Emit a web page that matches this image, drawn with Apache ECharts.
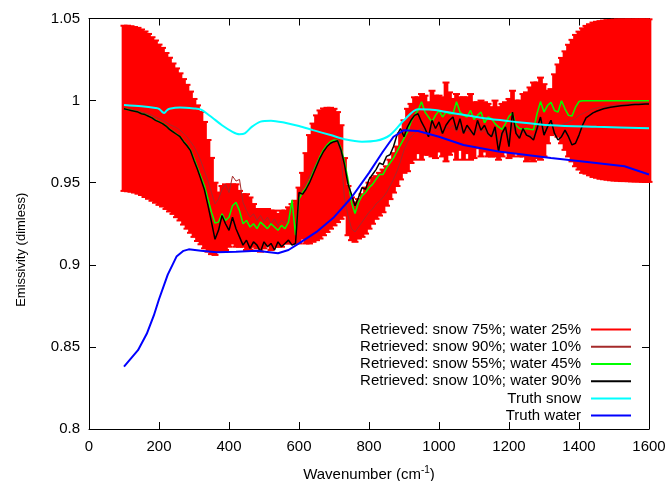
<!DOCTYPE html>
<html>
<head>
<meta charset="utf-8">
<script src="https://cdn.jsdelivr.net/npm/echarts/dist/echarts.min.js"></script>
<style>html,body{margin:0;padding:0;background:#fff}#main{width:668px;height:481px}</style>
</head>
<body>
<div id="main"></div>
<script>
// ---- Data ----
const wavenumbers = [
 100,110,120,130,140,150,160,170,180,190,
 200,210,220,230,240,250,260,270,280,290,
 300,310,320,330,340,350,360,370,380,390,
 400,410,420,430,440,450,460,470,480,490,
 500,510,520,530,540,550,560,570,580,590,
 600,610,620,630,640,650,660,670,680,690,
 700,710,720,730,740,750,760,770,780,790,
 800,810,820,830,840,850,860,870,880,890,
 900,910,920,930,940,950,960,970,980,990,
 1000,1010,1020,1030,1040,1050,1060,1070,1080,1090,
 1100,1110,1120,1130,1140,1150,1160,1170,1180,1190,
 1200,1210,1220,1230,1240,1250,1260,1270,1280,1290,
 1300,1310,1320,1330,1340,1350,1360,1370,1380,1390,
 1400,1410,1420,1430,1440,1450,1460,1470,1480,1490,
 1500,1510,1520,1530,1540,1550,1560,1570,1580,1590,
 1600];

// Retrieved: snow 75%; water 25% (centre) and its error
const snow75 = [
 .9953,.9952,.9949,.9944,.9938,.9929,.9917,.9904,.9888,.9872,
 .9853,.9838,.9815,.9793,.9768,.9743,.9718,.9688,.9658,.9625,
 .959,.9558,.9528,.9485,.942,.9358,.928,.926,.928,.929,
 .930,.931,.930,.928,.927,.926,.925,.924,.922,.921,
 .922,.923,.921,.922,.921,.922,.923,.924,.925,.926,
 .930,.936,.9405,.946,.950,.953,.955,.9566,.9578,.9588,
 .9595,.9595,.9565,.9475,.933,.928,.926,.928,.930,.933,
 .936,.939,.941,.943,.945,.948,.952,.956,.960,.966,
 .972,.976,.980,.983,.985,.984,.985,.983,.986,.984,
 .986,.984,.987,.986,.985,.984,.986,.983,.985,.984,
 .982,.985,.983,.984,.982,.981,.983,.980,.982,.984,
 .983,.986,.984,.983,.985,.984,.986,.987,.988,.989,
 .988,.990,.993,.998,1.0,1.0,1.0,1.0,1.0,1.0,
 1.0,1.0,1.0005,1.0005,1.0005,1.0005,1.0004,1.0004,1.0004,1.0003,
 1.0003,1.0003,1.0002,1.0002,1.0002,1.0001,1.0001,1.0001,1.0,1.0,
 1.0];
const snow75Err = [
 .0503,.0504,.0504,.0504,.0505,.0504,.0504,.0502,.0498,.0494,
 .0488,.0483,.0475,.0468,.0458,.0453,.0448,.0443,.0438,.043,
 .042,.0413,.0403,.0385,.034,.0293,.022,.018,.020,.020,
 .019,.018,.019,.017,.016,.017,.016,.013,.012,.013,
 .012,.011,.012,.011,.010,.011,.010,.011,.012,.013,
 .017,.020,.0275,.033,.036,.038,.039,.0386,.0378,.0368,
 .0355,.0335,.0285,.0175,.015,.013,.012,.012,.013,.014,
 .014,.014,.013,.013,.013,.012,.012,.012,.012,.014,
 .016,.019,.018,.019,.017,.020,.018,.016,.020,.019,
 .017,.018,.024,.019,.016,.020,.016,.019,.017,.020,
 .017,.014,.017,.015,.016,.015,.017,.016,.016,.015,
 .018,.020,.016,.017,.019,.021,.022,.024,.023,.025,
 .022,.016,.014,.018,.022,.026,.030,.034,.037,.040,
 .042,.044,.045,.046,.047,.0475,.048,.0483,.0486,.0488,
 .049,.0491,.0492,.0492,.0493,.0493,.0494,.0494,.0495,.0495,
 .0495];
// Retrieved: snow 90%; water 10%
const snow90 = [
 .995,.9947,.9944,.994,.9935,.993,.9925,.9918,.991,.990,
 .989,.988,.9868,.9855,.9845,.9835,.982,.980,.978,.975,
 .972,.968,.963,.957,.951,.944,.937,.940,.946,.949,
 .944,.954,.951,.952,.938,.933,.929,.931,.927,.930,
 .926,.929,.925,.928,.924,.927,.925,.929,.936,.920,
 .942,.947,.950,.954,.958,.962,.966,.970,.973,.975,
 .976,.9755,.968,.940,.930,.922,.920,.923,.926,.929,
 .932,.934,.937,.939,.941,.944,.948,.952,.957,.963,
 .970,.975,.978,.980,.982,.983,.982,.980,.984,.981,
 .983,.980,.984,.983,.985,.981,.984,.980,.982,.981,
 .979,.983,.981,.982,.979,.978,.981,.975,.979,.981,
 .978,.985,.980,.979,.981,.980,.979,.978,.982,.986,
 .983,.985,.987,.985,.984,.985,.986,.987,.988,.989,
 .991,.992,.993,.994,.995,.9955,.996,.9963,.9966,.9969,
 .9972,.9974,.9976,.9978,.998,.9981,.9982,.9983,.9984,.9985,
 .9986];
// Retrieved: snow 55%; water 45%
const snow55 = [
 .995,.9946,.9941,.9936,.9931,.9921,.9916,.9906,.9896,.9881,
 .9871,.9861,.9846,.9826,.9811,.9796,.9781,.9752,.9728,.9698,
 .9645,.959,.9535,.948,.940,.932,.9255,.926,.931,.927,
 .929,.936,.938,.933,.925,.927,.923,.925,.922,.926,
 .924,.922,.925,.923,.921,.924,.922,.926,.9395,.918,
 .940,.944,.947,.951,.956,.961,.966,.970,.973,.975,
 .976,.9757,.971,.963,.952,.938,.9313,.938,.942,.944,
 .947,.949,.952,.955,.955,.959,.962,.965,.969,.973,
 .977,.981,.987,.991,.994,.9993,.993,.990,.987,.991,
 .994,.990,.993,.992,.992,.9993,.993,.991,.990,.994,
 .9885,.991,.993,.9865,.990,.989,.986,.984,.9825,.986,
 .9905,.9925,.985,.983,.9826,.983,.9825,.9822,.992,.9994,
 .993,.997,.999,.994,.993,.9999,.995,.991,.9906,.996,
 .9994,.9999,.9999,.9999,.9999,.9999,.9999,.9999,.9999,.9999,
 .9999,.9999,.9999,.9999,.9999,.9999,.9999,.9999,.9999,.9999,
 .9999];
// Retrieved: snow 10%; water 90%
const snow10 = [
 .995,.9945,.994,.9935,.993,.992,.9915,.9905,.9895,.988,
 .987,.986,.9845,.9825,.981,.9795,.978,.975,.9725,.9695,
 .9635,.958,.952,.9455,.936,.926,.9155,.921,.930,.925,
 .921,.929,.922,.917,.912,.915,.910,.914,.912,.908,
 .914,.911,.913,.909,.914,.911,.913,.915,.912,.913,
 .944,.943,.946,.950,.955,.960,.965,.969,.972,.974,
 .975,.9755,.970,.961,.949,.943,.936,.941,.947,.946,
 .952,.955,.958,.962,.961,.966,.967,.972,.979,.983,
 .978,.984,.988,.991,.992,.987,.983,.978,.988,.983,
 .987,.980,.985,.988,.990,.982,.989,.980,.985,.982,
 .979,.988,.982,.985,.980,.978,.984,.969,.980,.984,
 .972,.993,.980,.977,.983,.979,.978,.976,.983,.990,
 .979,.984,.988,.980,.976,.978,.982,.978,.973,.974,
 .979,.985,.9895,.991,.9925,.9935,.9943,.995,.9955,.996,
 .9963,.9966,.9968,.997,.9972,.9974,.9976,.9977,.9978,.9979,
 .998];

// Truth snow
const snowTruthWn = [100,150,190,200,210,215,222,230,260,300,320,350,380,410,430,445,465,490,520,560,600,640,690,730,780,820,860,900,940,980,1050,1130,1200,1320,1450,1600];
const snowTruth   = [.9973,.9965,.9955,.995,.993,.9925,.994,.995,.9958,.9952,.9945,.990,.985,.981,.9795,.980,.984,.9872,.9878,.9865,.9845,.982,.979,.9765,.975,.9755,.979,.988,.9947,.9945,.992,.9892,.9875,.985,.984,.9831];
// Truth water
const waterTruthWn = [100,120,140,165,185,200,225,250,270,285,320,365,420,480,540,570,600,650,700,750,800,840,870,900,940,1000,1070,1170,1320,1430,1530,1600];
const waterTruth   = [.838,.843,.848,.858,.869,.879,.894,.905,.9085,.9094,.9085,.9076,.908,.9086,.907,.909,.913,.920,.929,.941,.956,.969,.978,.982,.9815,.978,.973,.969,.965,.9625,.960,.955];

const xTicks = [0,200,400,600,800,1000,1200,1400,1600];
const yTicks = [0.8,0.85,0.9,0.95,1,1.05];

const seriesNames = [
 'Retrieved: snow 75%; water 25%',
 'Retrieved: snow 90%; water 10%',
 'Retrieved: snow 55%; water 45%',
 'Retrieved: snow 10%; water 90%',
 'Truth snow',
 'Truth water'
];
const seriesColors = ['#ff0000','#a52a2a','#00ff00','#000000','#00ffff','#0000ff'];

// ---- Chart ----
const FONT = '"Liberation Sans", Arial, Helvetica, sans-serif';
const pairs = (xs, ys) => xs.map((x, i) => [x, ys[i]]);

function renderErrorBar(params, api) {
  const x = api.value(0), c = api.value(1), e = api.value(2);
  const hi = api.coord([x, c + e]);
  const lo = api.coord([x, c - e]);
  const cs = params.coordSys;
  const w = api.size([10, 0])[0] + 1.2;
  const cap = 7;
  const y1 = Math.max(hi[1], cs.y), y2 = Math.min(lo[1], cs.y + cs.height);
  const red = seriesColors[0];
  const children = [
    {type: 'rect', shape: {x: hi[0] - w / 2, y: y1, width: w, height: y2 - y1}, style: {fill: red}}
  ];
  if (hi[1] >= cs.y) children.push({type: 'rect', shape: {x: hi[0] - cap / 2, y: hi[1] - 1, width: cap, height: 2}, style: {fill: red}});
  if (lo[1] <= cs.y + cs.height) children.push({type: 'rect', shape: {x: lo[0] - cap / 2, y: lo[1] - 1, width: cap, height: 2}, style: {fill: red}});
  return {type: 'group', children};
}

const axisCommon = {
  axisLine: {onZero: false, lineStyle: {color: '#000', width: 1}},
  axisTick: {inside: true, length: 7, lineStyle: {color: '#000'}},
  splitLine: {show: false}
};

const option = {
  animation: false,
  backgroundColor: '#fff',
  grid: {left: 89, right: 19, top: 18.5, bottom: 52, containLabel: false, outerBoundsMode: 'none'},
  xAxis: [
    Object.assign({
      type: 'value', min: xTicks[0], max: xTicks[xTicks.length - 1], interval: xTicks[1] - xTicks[0],
      position: 'bottom',
      axisLabel: {color: '#000', fontSize: 15, fontFamily: FONT, margin: 10, formatter: v => String(v)},
      name: 'Wavenumber (cm{sup|-1})',
      nameLocation: 'middle', nameGap: 36,
      nameTextStyle: {color: '#000', fontSize: 15, fontFamily: FONT, lineHeight: 20,
        rich: {sup: {fontSize: 10, fontFamily: FONT, color: '#000', verticalAlign: 'top', lineHeight: 12}}}
    }, axisCommon),
    Object.assign({
      type: 'value', min: xTicks[0], max: xTicks[xTicks.length - 1], interval: xTicks[1] - xTicks[0],
      position: 'top', axisLabel: {show: false}
    }, axisCommon)
  ],
  yAxis: [
    Object.assign({
      type: 'value', min: yTicks[0], max: yTicks[yTicks.length - 1], interval: 0.05,
      position: 'left',
      axisLabel: {color: '#000', fontSize: 15, fontFamily: FONT, margin: 9,
        formatter: v => String(+v.toFixed(2))},
      name: 'Emissivity (dimless)',
      nameLocation: 'middle', nameGap: 61,
      nameTextStyle: {color: '#000', fontSize: 13, fontFamily: FONT, padding: [0, 52, 0, 0]}
    }, axisCommon),
    Object.assign({
      type: 'value', min: yTicks[0], max: yTicks[yTicks.length - 1], interval: 0.05,
      position: 'right', axisLabel: {show: false}
    }, axisCommon)
  ],
  legend: {
    orient: 'vertical', right: 32, top: 316, align: 'right', padding: 5,
    itemWidth: 40, itemHeight: 2, itemGap: 0, selectedMode: false,
    textStyle: {color: '#000', fontSize: 15, fontFamily: FONT, lineHeight: 17.2, padding: [0, 5, 0, 0]},
    data: seriesNames.map((n, i) => ({name: n, icon: 'rect', itemStyle: {color: seriesColors[i]}}))
  },
  series: [
    {
      name: seriesNames[0], type: 'line', showSymbol: false, silent: true,
      data: pairs(wavenumbers, snow75), lineStyle: {color: seriesColors[0], width: 2}, itemStyle: {color: seriesColors[0]}, z: 1
    },
    {
      name: seriesNames[0], type: 'custom', renderItem: renderErrorBar, silent: true,
      data: wavenumbers.map((x, i) => [x, snow75[i], snow75Err[i]]),
      encode: {x: 0, y: 1}, itemStyle: {color: seriesColors[0]}, z: 2
    },
    {
      name: seriesNames[1], type: 'line', showSymbol: false, silent: true,
      data: pairs(wavenumbers, snow90), lineStyle: {color: seriesColors[1], width: 1}, itemStyle: {color: seriesColors[1]}, z: 3
    },
    {
      name: seriesNames[2], type: 'line', showSymbol: false, silent: true,
      data: pairs(wavenumbers, snow55), lineStyle: {color: seriesColors[2], width: 1.5}, itemStyle: {color: seriesColors[2]}, z: 4
    },
    {
      name: seriesNames[3], type: 'line', showSymbol: false, silent: true,
      data: pairs(wavenumbers, snow10), lineStyle: {color: seriesColors[3], width: 1.5}, itemStyle: {color: seriesColors[3]}, z: 5
    },
    {
      name: seriesNames[4], type: 'line', showSymbol: false, silent: true, smooth: 0.3,
      data: pairs(snowTruthWn, snowTruth), lineStyle: {color: seriesColors[4], width: 2}, itemStyle: {color: seriesColors[4]}, z: 6
    },
    {
      name: seriesNames[5], type: 'line', showSymbol: false, silent: true,
      data: pairs(waterTruthWn, waterTruth), lineStyle: {color: seriesColors[5], width: 2}, itemStyle: {color: seriesColors[5]}, z: 7
    }
  ]
};

const chart = echarts.init(document.getElementById('main'), null, {renderer: 'canvas'});
chart.setOption(option);
</script>
</body>
</html>
